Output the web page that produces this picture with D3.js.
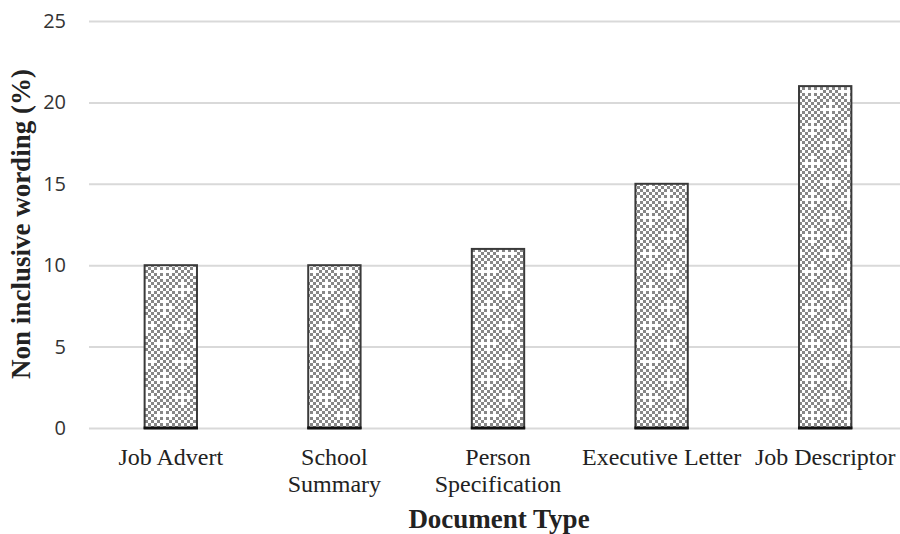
<!DOCTYPE html>
<html>
<head>
<meta charset="utf-8">
<script src="https://cdn.jsdelivr.net/npm/d3@7"></script>
<style>
  html, body { margin: 0; padding: 0; background: #fff; }
  svg { display: block; }
</style>
</head>
<body>
<svg id="chart" width="900" height="534"></svg>
<script>
// Share of non inclusive wording found in each document type
const categories = [["Job Advert"], ["School", "Summary"], ["Person", "Specification"], ["Executive Letter"], ["Job Descriptor"]];
const values = [10, 10, 11, 15, 21];
const yTicks = [0, 5, 10, 15, 20, 25];

const svg = d3.select("#chart");
const plotLeft = 89, plotRight = 907, plotTop = 21, plotBottom = 428;

const keys = categories.map(c => c.join(" "));
const x = d3.scaleBand().domain(keys).range([plotLeft, plotRight]).paddingInner(0.68).paddingOuter(0.34);
const y = d3.scaleLinear().domain([0, 25]).range([plotBottom, plotTop]);

// Checkerboard fill with small white crosses
const defs = svg.append("defs");
const cell = 3, n = 12;
const pat = defs.append("pattern").attr("id", "checker")
  .attr("patternUnits", "userSpaceOnUse").attr("width", cell * n).attr("height", cell * n)
  .attr("x", 1).attr("y", 0);
pat.append("rect").attr("width", cell * n).attr("height", cell * n).attr("fill", "#fff");
const white = new Set();
[[0, 0], [6, 6]].forEach(([cx, cy]) => {
  [[0,0],[1,0],[-1,0],[0,1],[0,-1],[2,0],[-2,0],[0,2],[0,-2]].forEach(([dx, dy]) => {
    white.add(((cx + dx + n) % n) + "," + ((cy + dy + n) % n));
  });
});
for (let i = 0; i < n; i++) {
  for (let j = 0; j < n; j++) {
    if ((i + j) % 2 === 0 && !white.has(i + "," + j)) {
      pat.append("rect").attr("x", i * cell).attr("y", j * cell)
        .attr("width", cell).attr("height", cell).attr("fill", "#878787");
    }
  }
}

// Horizontal gridlines and y tick labels
const yAxis = d3.axisLeft(y).tickValues(yTicks).tickSize(-(plotRight - plotLeft)).tickPadding(23);
const gy = svg.append("g").attr("transform", `translate(${plotLeft},0)`).call(yAxis);
gy.select(".domain").remove();
gy.selectAll(".tick line").attr("stroke", "#d9d9d9").attr("stroke-width", 2);
gy.selectAll(".tick text").attr("font-family", "'Open Sans', 'DejaVu Sans', sans-serif")
  .attr("font-size", 20).attr("fill", "#333");

// Bars
const bars = svg.append("g");
keys.forEach((k, i) => {
  const bx = x(k), bw = x.bandwidth(), by = y(values[i]), bh = y(0) - y(values[i]);
  bars.append("rect").attr("x", bx).attr("y", by).attr("width", bw).attr("height", bh)
    .attr("fill", "url(#checker)").attr("stroke", "#3a3a3a").attr("stroke-width", 2);
  bars.append("line").attr("x1", bx - 1).attr("x2", bx + bw + 1)
    .attr("y1", y(0)).attr("y2", y(0)).attr("stroke", "#111").attr("stroke-width", 3);
});

// Category labels
const xl = svg.append("g").attr("font-family", "'Liberation Serif', 'Times New Roman', serif")
  .attr("font-size", 24).attr("fill", "#222").attr("text-anchor", "middle");
categories.forEach((lines, i) => {
  const cx = x(keys[i]) + x.bandwidth() / 2;
  const t = xl.append("text").attr("x", cx).attr("y", 465);
  lines.forEach((ln, j) => t.append("tspan").attr("x", cx).attr("dy", j === 0 ? 0 : 27).text(ln));
});

// Axis titles
svg.append("text").attr("x", 499).attr("y", 528)
  .attr("text-anchor", "middle").attr("font-family", "'Liberation Serif', 'Times New Roman', serif")
  .attr("font-weight", "bold").attr("font-size", 27).attr("fill", "#222").text("Document Type");
svg.append("text").attr("transform", `translate(30,224) rotate(-90)`)
  .attr("text-anchor", "middle").attr("font-family", "'Liberation Serif', 'Times New Roman', serif")
  .attr("font-weight", "bold").attr("font-size", 27).attr("fill", "#222").text("Non inclusive wording (%)");
</script>
</body>
</html>
